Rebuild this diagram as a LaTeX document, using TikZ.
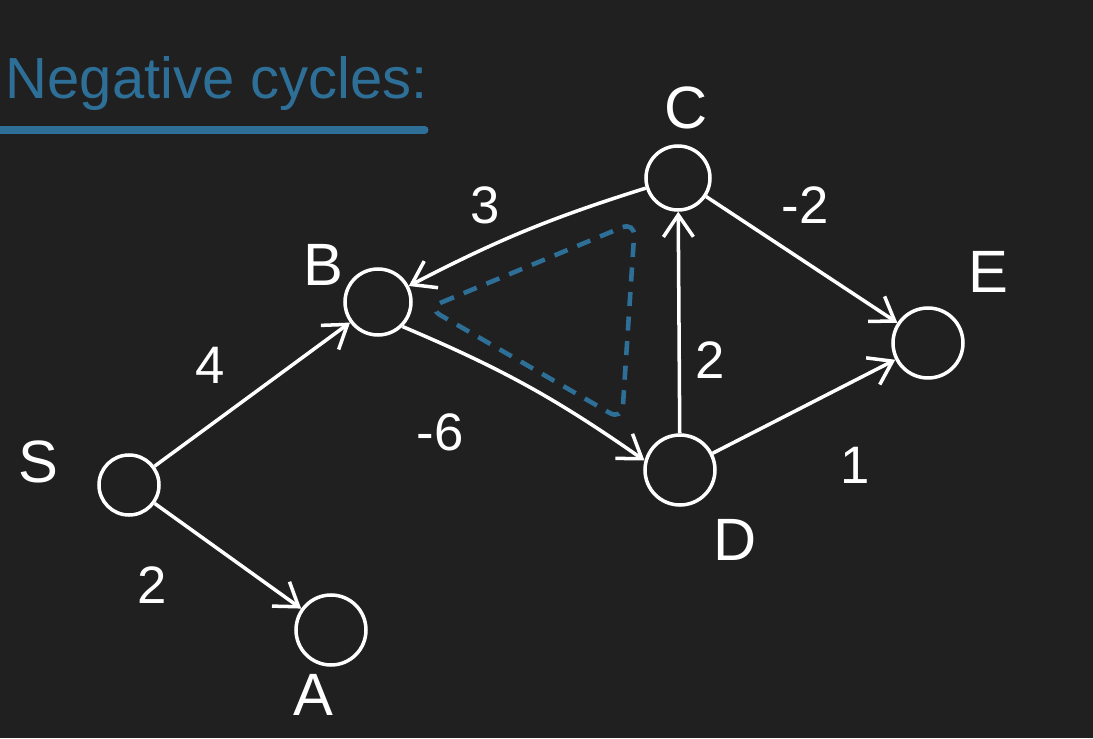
\documentclass[tikz,border=0pt]{standalone}
\usepackage{fontspec}
\setmainfont{Liberation Sans}
\usepackage{xcolor}
\usetikzlibrary{positioning,calc,arrows.meta}
\definecolor{board}{HTML}{202020}
\definecolor{chalkblue}{HTML}{2E6F98}
\begin{document}
\begin{tikzpicture}[
    vertex/.style={circle, draw=white, line width=1pt, minimum size=0.66cm, inner sep=0pt},
    vname/.style={text=white, font=\fontsize{17}{17}\selectfont},
    weight/.style={text=white, font=\fontsize{15}{15}\selectfont},
    arc/.style={->, >={Straight Barb[length=2.2mm,width=3mm]}, white, line width=1pt}
]
    % Board
    \fill[board] (0,0) rectangle (10.93,7.38);
    \useasboundingbox (0,0) rectangle (10.93,7.38);

    % Title
    \node[anchor=base west, inner sep=0pt, text=chalkblue, font=\fontsize{16.5}{16.5}\selectfont] (title) at (0.05,6.40) {Negative cycles:};
    \draw[chalkblue, line width=2pt, line cap=round] (0,6.08) -- (4.25,6.08);

    % Vertices
    \node[vertex, minimum size=0.6cm] (S) at (1.29,2.53) {};
    \node[vertex, minimum size=0.7cm] (A) at (3.31,1.08) {};
    \node[vertex] (B) at (3.78,4.36) {};
    \node[vertex, minimum size=0.64cm] (C) at (6.78,5.60) {};
    \node[vertex, minimum size=0.7cm] (D) at (6.80,2.68) {};
    \node[vertex, minimum size=0.7cm] (E) at (9.28,3.95) {};

    \node[vname] (lS) at (0.38,2.76) {S};
    \node[vname] (lA) at (3.13,0.43) {A};
    \node[vname] (lB) at (3.23,4.73) {B};
    \node[vname] (lC) at (6.86,6.30) {C};
    \node[vname] (lD) at (7.35,1.98) {D};
    \node[vname] (lE) at (9.88,4.66) {E};

    % Edges
    \draw[arc] (S) -- (B);
    \draw[arc] (S) -- (A);
    \draw[arc] (C) to[bend right=5] (B);
    \draw[arc] (B.-45) to[bend left=6] (D.165);
    \draw[arc] (D) -- (C);
    \draw[arc] (C) -- (E);
    \draw[arc] (D) -- (E);

    \node[weight] (wSB) at (2.10,3.73) {4};
    \node[weight] (wSA) at (1.52,1.53) {2};
    \node[weight] (wCB) at (4.85,5.33) {3};
    \node[weight] (wBD) at (4.40,3.06) {-6};
    \node[weight] (wDC) at (7.10,3.78) {2};
    \node[weight] (wCE) at (8.05,5.33) {-2};
    \node[weight] (wDE) at (8.55,2.73) {1};

    % Negative cycle
    \coordinate (t1) at (4.28,4.30);
    \coordinate (t2) at (6.35,5.16);
    \coordinate (t3) at (6.22,3.18);
    \draw[chalkblue, line width=1.3pt, dash pattern=on 4pt off 3pt, rounded corners=4pt]
        (t1) -- (t2) -- (t3) -- cycle;
\end{tikzpicture}
\end{document}
